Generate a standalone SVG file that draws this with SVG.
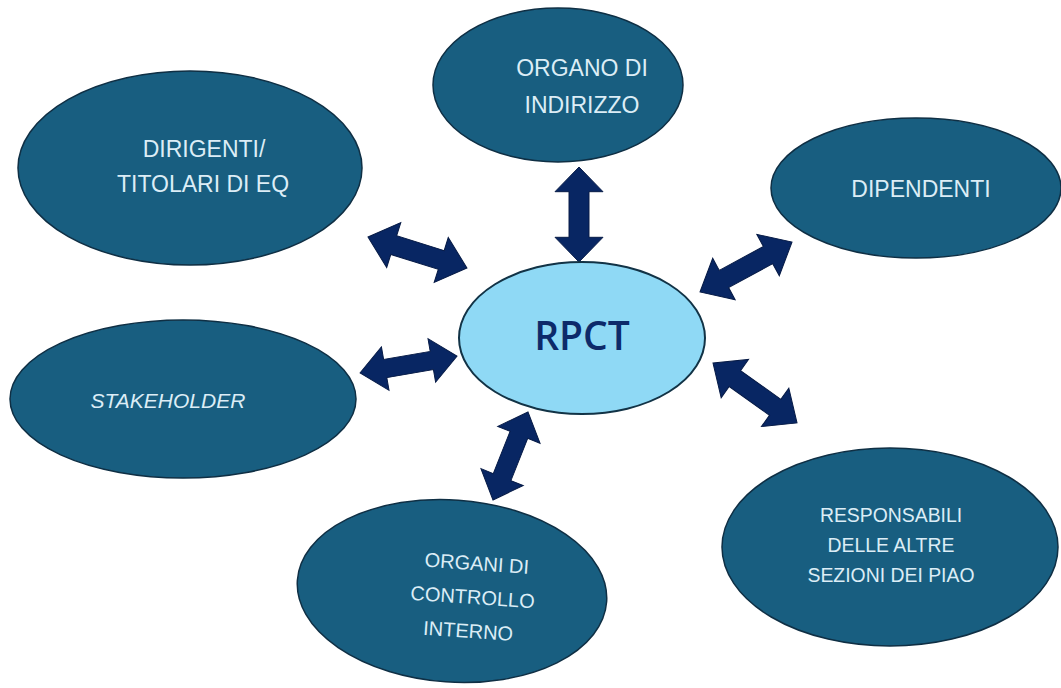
<svg xmlns="http://www.w3.org/2000/svg" width="1061" height="688" viewBox="0 0 1061 688">
<style>
.n{fill:#185e80;stroke:#0f2f44;stroke-width:1.5}
.t{fill:#dcedf6;font-family:"Liberation Sans","Open Sans",sans-serif;text-anchor:middle}
.a{fill:#082663;stroke:#061a45;stroke-width:1}
</style>
<defs>
<path id="dbl" d="M0,0 L26,-24 L26,-10 L74,-10 L74,-24 L100,0 L74,24 L74,10 L26,10 L26,24 Z"/>
</defs>
<rect width="1061" height="688" fill="#ffffff"/>
<g id="connectors">
<use href="#dbl" class="a" transform="translate(579,167) rotate(90) scale(0.95,1)"/>
<use href="#dbl" class="a" transform="translate(368,237) rotate(17.4) scale(1.037,0.98)"/>
<use href="#dbl" class="a" transform="translate(700,292) rotate(-28.5) scale(1.047,0.98)"/>
<use href="#dbl" class="a" transform="translate(713,363) rotate(35.5) scale(1.032,0.98)"/>
<use href="#dbl" class="a" transform="translate(360,373) rotate(-9.9) scale(0.985,0.92)"/>
<use href="#dbl" class="a" transform="translate(528,412) rotate(111.7) scale(0.947,0.95)"/>
</g>
<g id="organo">
<ellipse class="n" cx="558" cy="85" rx="125" ry="77"/>
<text class="t" font-size="23" x="582" y="76">ORGANO DI</text>
<text class="t" font-size="23" x="582" y="113">INDIRIZZO</text>
</g>
<g id="dirigenti">
<ellipse class="n" cx="190" cy="168" rx="172" ry="97"/>
<text class="t" font-size="23" x="204" y="157">DIRIGENTI/</text>
<text class="t" font-size="23" x="203" y="192">TITOLARI DI EQ</text>
</g>
<g id="dipendenti">
<ellipse class="n" cx="916" cy="188" rx="145" ry="70"/>
<text class="t" font-size="23" x="921" y="197">DIPENDENTI</text>
</g>
<g id="stakeholder">
<ellipse class="n" cx="183" cy="399" rx="173" ry="79"/>
<text class="t" font-size="21" font-style="italic" x="168" y="408">STAKEHOLDER</text>
</g>
<g id="rpct">
<ellipse cx="582" cy="338" rx="123" ry="76" fill="#8fd9f5" stroke="#123346" stroke-width="2"/>
<text x="582" y="350" font-size="39" text-anchor="middle" font-family="'Open Sans','Liberation Sans',sans-serif" font-weight="600" fill="#0d2a6a">RPCT</text>
</g>
<g id="organi-controllo">
<ellipse class="n" cx="452" cy="591" rx="155" ry="91" transform="rotate(4 452 591)"/>
<g transform="rotate(4 472 605)">
<text class="t" font-size="20" x="474" y="570">ORGANI DI</text>
<text class="t" font-size="20" x="472" y="604">CONTROLLO</text>
<text class="t" font-size="20" x="470" y="638">INTERNO</text>
</g>
</g>
<g id="responsabili">
<ellipse class="n" cx="890" cy="547" rx="168" ry="99"/>
<text class="t" font-size="19.4" x="891" y="522">RESPONSABILI</text>
<text class="t" font-size="19.4" x="891" y="552">DELLE ALTRE</text>
<text class="t" font-size="19.4" x="891" y="582">SEZIONI DEI PIAO</text>
</g>
</svg>
